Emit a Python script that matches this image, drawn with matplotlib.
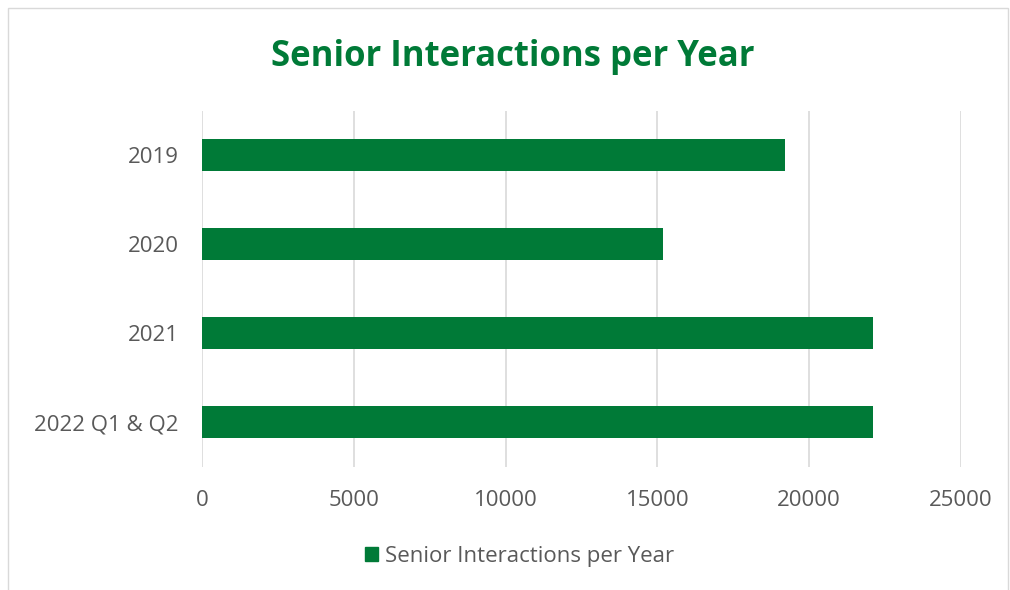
import matplotlib.pyplot as plt
from matplotlib.patches import Rectangle

# Data
years = ["2019", "2020", "2021", "2022 Q1 & Q2"]
interactions = [19200, 15200, 22100, 22100]
xticks = [0, 5000, 10000, 15000, 20000, 25000]

green = '#007A37'
gray_text = '#595959'

plt.rcParams['font.family'] = ['Open Sans', 'DejaVu Sans']

fig = plt.figure(figsize=(10.1, 5.9), dpi=100)
ax = fig.add_axes([0.2, 0.2093, 0.7515, 0.6034])

ax.barh(years, interactions, height=0.36, color=green, zorder=3, label='Senior Interactions per Year')
ax.set_ylim(3.5, -0.5)
ax.set_xlim(0, 25000)
ax.set_xticks(xticks)
ax.grid(axis='x', color='#d9d9d9', linewidth=1.2, zorder=0)
ax.tick_params(axis='both', length=0, labelcolor=gray_text, labelsize=16)
ax.tick_params(axis='y', pad=17)
ax.tick_params(axis='x', pad=17)
for s in ax.spines.values():
    s.set_visible(False)

fig.text(0.508, 0.903, 'Senior Interactions per Year', ha='center', va='center',
         fontsize=25, fontweight='bold', color=green)

handle = Rectangle((0, 0), 1, 1, color=green)
fig.legend([handle], ['Senior Interactions per Year'], loc='center', bbox_to_anchor=(0.514, 0.0576),
           frameon=False, fontsize=16, labelcolor=gray_text, handlelength=0.6, handleheight=0.6,
           handletextpad=0.3)

# chart border
fig.patches.append(Rectangle((0.008, -0.01), 0.99, 0.996, transform=fig.transFigure,
                             fill=False, edgecolor='#d9d9d9', linewidth=1))

fig.savefig('out.png', dpi=100)
